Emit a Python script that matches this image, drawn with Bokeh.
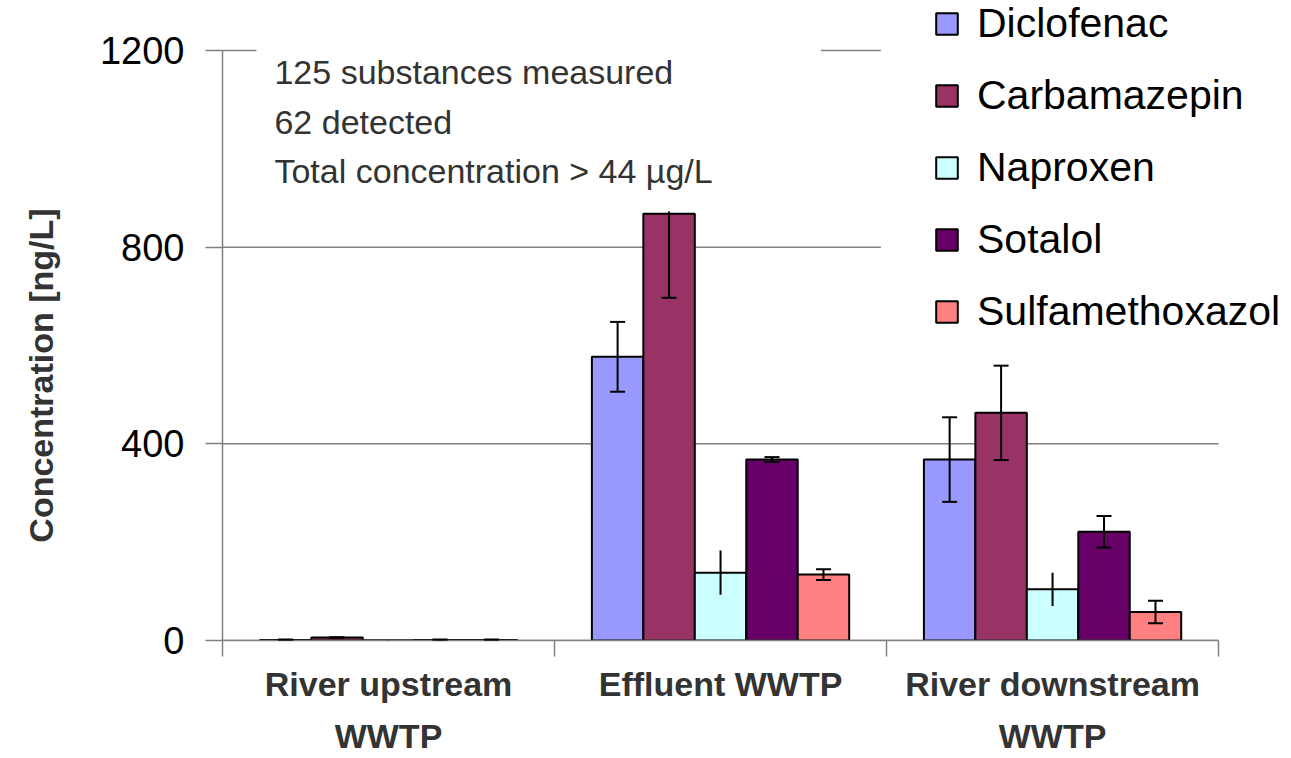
import math
from bokeh.plotting import figure
from bokeh.layouts import row
from bokeh.models import (ColumnDataSource, Range1d, FixedTicker, Whisker, TeeHead,
                          Label, BoxAnnotation, Legend, LegendItem)
from bokeh.embed import file_html
from bokeh.resources import INLINE

# ---------------- data ----------------
categories = ["River upstream\nWWTP", "Effluent WWTP", "River downstream\nWWTP"]
substances = ["Diclofenac", "Carbamazepin", "Naproxen", "Sotalol", "Sulfamethoxazol"]
diclofenac = [1, 577, 368]
diclofenac_err = [1, 71, 86]
carbamazepin = [6, 868, 463]
carbamazepin_err = [0, 171, 96]
naproxen = [0.5, 138, 104]
naproxen_err = [0.5, 45, 34]
sotalol = [1, 368, 221]
sotalol_err = [1, 5, 32]
sulfamethoxazol = [1, 134, 58]
sulfamethoxazol_err = [1, 11, 23]
y_ticks = [0, 400, 800, 1200]
y_title = "Concentration [ng/L]"
note_lines = ["125 substances measured", "62 detected", "Total concentration > 44 \u00b5g/L"]

values = [diclofenac, carbamazepin, naproxen, sotalol, sulfamethoxazol]
errors = [diclofenac_err, carbamazepin_err, naproxen_err, sotalol_err, sulfamethoxazol_err]
colors = ["#9999FF", "#993366", "#CCFFFF", "#660066", "#FF8080"]
capped = [True, True, False, True, True]

# ---------------- layout ----------------
W, H = 1291, 758
LEFTW = 96                                # strip holding the y-axis title
FL, FR, FT, FB = 221, 1218, 50, 640      # data area (axes box) in window px
YMAX = 1200
NG = len(categories)

def px2x(px):
    return (px - FL) * NG / (FR - FL)

def px2y(py):
    return (FB - py) * YMAX / (FB - FT)

GRAY = "#808080"
BOLDFONT = "Liberation Sans"

# ---- left strip with the rotated y title (its frame is aligned with the main frame: 0..FB) ----
t = figure(width=LEFTW, height=H, output_backend="svg", toolbar_location=None,
           x_axis_location=None, y_axis_location=None,
           x_range=Range1d(0, LEFTW), y_range=Range1d(0, FB),
           min_border=0, min_border_left=0, min_border_right=0,
           min_border_top=0, min_border_bottom=0)
t.grid.grid_line_color = None
t.outline_line_color = None
t.background_fill_color = "white"
t.border_fill_color = "white"
t.add_layout(Label(x=40, y=FB - 375, text=y_title, angle=math.pi / 2,
                   text_font=BOLDFONT, text_font_style="bold", text_font_size="34px",
                   text_color="#333333", text_align="center", text_baseline="middle"))

# ---- main chart; frame spans to canvas top/right so legend & notes are not clipped ----
p = figure(width=W - LEFTW, height=H, output_backend="svg", toolbar_location=None,
           x_range=Range1d(0, px2x(W)), y_range=Range1d(0, px2y(0)),
           min_border_left=FL - LEFTW, min_border_right=0,
           min_border_top=0, min_border_bottom=H - FB)
p.outline_line_color = None
p.background_fill_color = "white"
p.border_fill_color = "white"

# y axis
p.yaxis.bounds = (0, YMAX)
p.yaxis.ticker = FixedTicker(ticks=y_ticks, minor_ticks=[])
p.yaxis.axis_line_color = GRAY
p.yaxis.axis_line_width = 1.5
p.yaxis.major_tick_line_color = GRAY
p.yaxis.major_tick_line_width = 1.5
p.yaxis.major_tick_out = 17
p.yaxis.major_tick_in = 0
p.yaxis.minor_tick_line_color = None
p.yaxis.major_label_text_font = "Liberation Sans"
p.yaxis.major_label_text_font_size = "38px"
p.yaxis.major_label_text_color = "black"
p.yaxis.major_label_standoff = 21

# x axis: boundary ticks as minor ticks, category names as major labels
centers = [g + 0.5 for g in range(NG)]
p.xaxis.bounds = (0, NG)
p.xaxis.ticker = FixedTicker(ticks=centers, minor_ticks=list(range(NG + 1)))
p.xaxis.major_label_overrides = {c: cat for c, cat in zip(centers, categories)}
p.xaxis.axis_line_color = GRAY
p.xaxis.axis_line_width = 1.5
p.xaxis.minor_tick_line_color = GRAY
p.xaxis.minor_tick_line_width = 1.5
p.xaxis.minor_tick_out = 16
p.xaxis.minor_tick_in = 0
p.xaxis.major_tick_line_color = None
p.xaxis.major_tick_out = 0
p.xaxis.major_tick_in = 0
p.xaxis.major_label_text_font = BOLDFONT
p.xaxis.major_label_text_font_style = "bold"
p.xaxis.major_label_text_font_size = "34px"
p.xaxis.major_label_text_color = "#333333"
p.xaxis.major_label_text_line_height = 1.38
p.xaxis.major_label_standoff = 8

p.xgrid.grid_line_color = None
p.ygrid.grid_line_color = None
# horizontal gridlines across the data area only
p.segment(x0=[0] * len(y_ticks), x1=[NG] * len(y_ticks), y0=y_ticks, y1=y_ticks,
          line_color=GRAY, line_width=1.5, level="underlay")

# ---------------- bars ----------------
BW = 0.155
renderers = []
for j, (name, vals, errs, col, cap) in enumerate(zip(substances, values, errors, colors, capped)):
    xs = [g + 0.5 + (j - 2) * BW for g in range(NG)]
    src = ColumnDataSource(dict(x=xs, top=vals,
                                upper=[v + e for v, e in zip(vals, errs)],
                                lower=[v - e for v, e in zip(vals, errs)]))
    r = p.vbar(x="x", top="top", width=BW, source=src, fill_color=col,
               line_color="black", line_width=2)
    renderers.append(r)
    heads = dict(upper_head=TeeHead(size=15, line_color="black", line_width=2),
                 lower_head=TeeHead(size=15, line_color="black", line_width=2)) if cap \
        else dict(upper_head=None, lower_head=None)
    p.add_layout(Whisker(base="x", upper="upper", lower="lower", source=src,
                         line_color="black", line_width=2, level="annotation", **heads))

# white text box (covers gridline / whisker behind the note)
p.add_layout(BoxAnnotation(left=px2x(255), right=px2x(820), top=px2y(38), bottom=px2y(211),
                           fill_color="white", fill_alpha=1, line_color=None, level="annotation"))
# white legend area
p.add_layout(BoxAnnotation(left=px2x(880), right=px2x(W), top=px2y(0), bottom=px2y(340),
                           fill_color="white", fill_alpha=1, line_color=None, level="annotation"))

# note text
for line, base in zip(note_lines, [71, 121, 170]):
    p.add_layout(Label(x=px2x(273), y=px2y(base), text=line, text_font="Liberation Sans",
                       text_font_size="34px", text_color="#333333",
                       text_baseline="alphabetic", text_align="left"))

# legend
legend = Legend(items=[LegendItem(label=n, renderers=[r]) for n, r in zip(substances, renderers)],
                location=(932 - FL, 305), orientation="vertical",
                glyph_width=27, glyph_height=27, spacing=25,
                label_standoff=17, padding=0, margin=0,
                label_text_font="Liberation Sans", label_text_font_size="41px",
                label_text_color="black", border_line_color=None,
                background_fill_alpha=0)
p.add_layout(legend)

layout = row(t, p, spacing=0)
open("out.html", "w").write(file_html(layout, INLINE))
